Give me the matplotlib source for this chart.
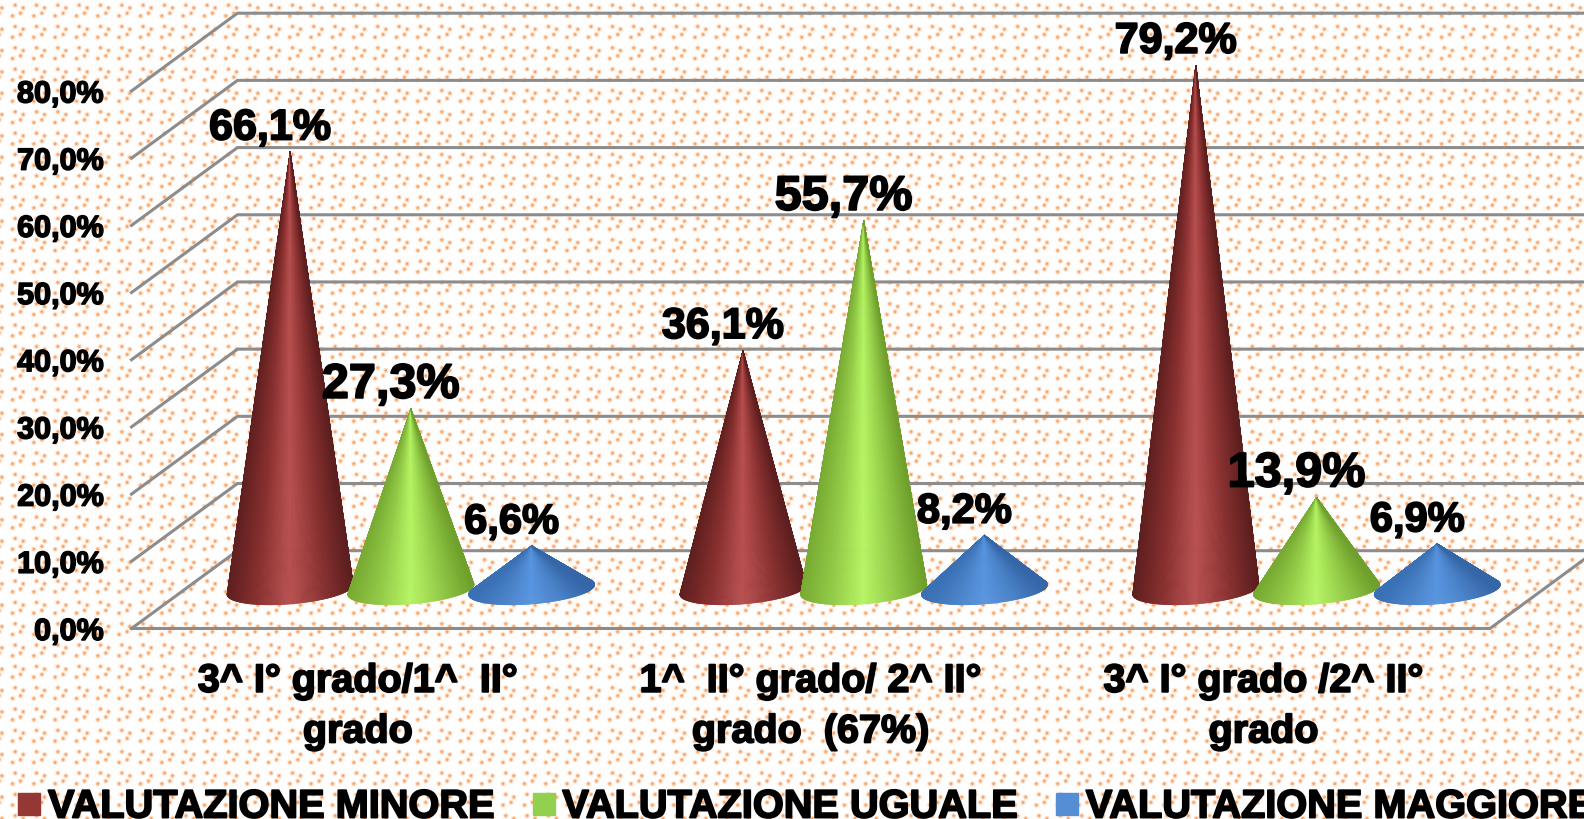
import numpy as np
import matplotlib
matplotlib.use("Agg")
import matplotlib.pyplot as plt
import matplotlib.patheffects as pe
from matplotlib.collections import PolyCollection
from matplotlib.colors import LinearSegmentedColormap
from matplotlib.lines import Line2D

categories = ["3^ I° grado/1^  II°\ngrado", "1^  II° grado/ 2^ II°\ngrado  (67%)", "3^ I° grado /2^ II°\ngrado"]
series_names = ["VALUTAZIONE MINORE", "VALUTAZIONE UGUALE", "VALUTAZIONE MAGGIORE"]
minore = [66.1, 36.1, 79.2]
uguale = [27.3, 55.7, 13.9]
maggiore = [6.6, 8.2, 6.9]
yticks = [0, 10, 20, 30, 40, 50, 60, 70, 80]

W, H = 1584, 819
# oblique projection of the floor: one depth unit moves right and up
DX, DY = 0.234, 11.58
R, RZ = 0.1316, 0.195
SPACING = 0.2666
CONE_SCALE = 0.985

plt.rcParams["font.family"] = ["Liberation Sans", "DejaVu Sans"]
plt.rcParams["font.weight"] = "bold"


def fat(lw):
    return [pe.withStroke(linewidth=lw, foreground="black")]


def project(x, d, v):
    return x + d * DX, v + d * DY


def dotted_background():
    yy, xx = np.mgrid[0:H, 0:W]
    # the fill repeats on a square tile holding four dots
    period = 21.33
    dot = np.zeros((H, W))
    for ox, oy in [(14.7, 4.7), (22.7, 7.4), (12.0, 15.4), (20.0, 12.7)]:
        px = (xx - ox + period / 2) % period - period / 2
        py = (yy - oy + period / 2) % period - period / 2
        dot = np.maximum(dot, np.exp(-(px ** 2 + py ** 2) / 3.4))
    dot = dot[..., None]
    white = np.array([1.0, 1.0, 1.0])
    orange = np.array([0.97, 0.6, 0.32])
    return white * (1 - dot) + orange * dot


def draw_cone(ax, cx, value, cmap, z):
    t = np.linspace(0, 2 * np.pi, 361)[:-1]
    bx, by = project(cx + R * np.cos(t), 0.5 + RZ * np.sin(t), 0)
    tx, ty = project(cx, 0.5, value * CONE_SCALE)
    # silhouette: the two base points seen at the widest angle from the tip,
    # measured in pixels so the axes' aspect does not matter
    tip_px = ax.transData.transform((tx, ty))
    base_px = ax.transData.transform(np.column_stack([bx, by]))
    ang = np.arctan2(base_px[:, 0] - tip_px[0], tip_px[1] - base_px[:, 1])
    i_l, i_r = int(np.argmin(ang)), int(np.argmax(ang))
    # walk the front arc from the left tangent point to the right one
    n = (i_r - i_l) % len(t)
    idx = (i_l + np.arange(n + 1)) % len(t)
    x_l, x_r = bx[i_l], bx[i_r]
    tris, shade = [], []
    for k in range(n):
        p, q = idx[k], idx[k + 1]
        tris.append([(tx, ty), (bx[p], by[p]), (bx[q], by[q])])
        shade.append(((bx[p] + bx[q]) / 2 - x_l) / (x_r - x_l))
    colors = cmap(np.array(shade))
    ax.add_collection(PolyCollection(tris, facecolors=colors, edgecolors=colors,
                                     linewidths=0.5, zorder=z, clip_on=False))


red = LinearSegmentedColormap.from_list("r", ["#5f1f1f", "#8a3030", "#b85050", "#8c3232", "#5c1e1e"])
green = LinearSegmentedColormap.from_list("g", ["#78aa32", "#93cb47", "#b6f464", "#93cb47", "#6f9f2c"])
blue = LinearSegmentedColormap.from_list("b", ["#3a70b4", "#4a82c8", "#5895e0", "#4a82c8", "#3567a8"])

fig = plt.figure(figsize=(W / 100, H / 100), dpi=100)
bg = fig.add_axes([0, 0, 1, 1], zorder=0)
bg.imshow(dotted_background(), aspect="auto", interpolation="nearest")
bg.axis("off")

left, right, bottom, top = 131.5, 1490, 628.5, 91
ax = fig.add_axes([left / W, 1 - bottom / H, (right - left) / W, (bottom - top) / H], zorder=1)
ax.patch.set_alpha(0)
ax.set_xlim(0, 3)
ax.set_ylim(0, 80)
for s in ax.spines.values():
    s.set_visible(False)

# walls and floor
grid_color = "#8c8c8c"
for v in yticks:
    x0, y0 = project(0, 0, v)
    x1, y1 = project(0, 1, v)
    x2, y2 = project(3, 1, v)
    ax.plot([x0, x1, x2], [y0, y1, y2], color=grid_color, lw=2.2, clip_on=False, zorder=1,
            solid_joinstyle="miter")
x0, y0 = project(0, 0, 0)
x1, y1 = project(3, 0, 0)
x2, y2 = project(3, 1, 0)
ax.plot([x0, x1, x2], [y0, y1, y2], color=grid_color, lw=2.2, clip_on=False, zorder=1)

ax.set_yticks(yticks)
ax.set_yticklabels([f"{v:.1f}%".replace(".", ",") for v in yticks], fontsize=22, fontweight="bold",
                   path_effects=fat(1.1))
ax.tick_params(axis="y", length=0, pad=20)
ax.set_xticks(np.arange(3) + 0.5)
ax.set_xticklabels(categories, fontsize=28.5, fontweight="bold", linespacing=1.42, path_effects=fat(1.3))
ax.tick_params(axis="x", length=0, pad=24)

all_series = [minore, uguale, maggiore]
cmaps = [red, green, blue]
label_sizes = [31, 35, 30]
z = 3
for i in range(3):
    for j, vals in enumerate(all_series):
        cx = i + 0.5 + (j - 1) * SPACING
        draw_cone(ax, cx, vals[i], cmaps[j], z)
        z += 1
for i in range(3):
    for j, vals in enumerate(all_series):
        cx = i + 0.5 + (j - 1) * SPACING
        tx, ty = project(cx, 0.5, vals[i] * CONE_SCALE)
        ax.annotate(f"{vals[i]:.1f}%".replace(".", ","), (tx, ty), xytext=(-14.5, 17),
                    textcoords="offset points", ha="center", va="center",
                    fontsize=label_sizes[j], fontweight="bold", zorder=40, annotation_clip=False,
                    path_effects=fat(1.3))

handles = [Line2D([], [], marker="s", ls="", color=c, markersize=16)
           for c in ["#953735", "#92d050", "#558ed5"]]
leg = fig.legend(handles, series_names, loc="lower left", bbox_to_anchor=(0.0085, -0.008), ncol=3,
                 frameon=False, fontsize=28.6, handlelength=0.8, handletextpad=0.07,
                 columnspacing=0.85, borderpad=0, borderaxespad=0)
for txt in leg.get_texts():
    txt.set_path_effects(fat(1.3))

fig.savefig("out.png", dpi=100)
